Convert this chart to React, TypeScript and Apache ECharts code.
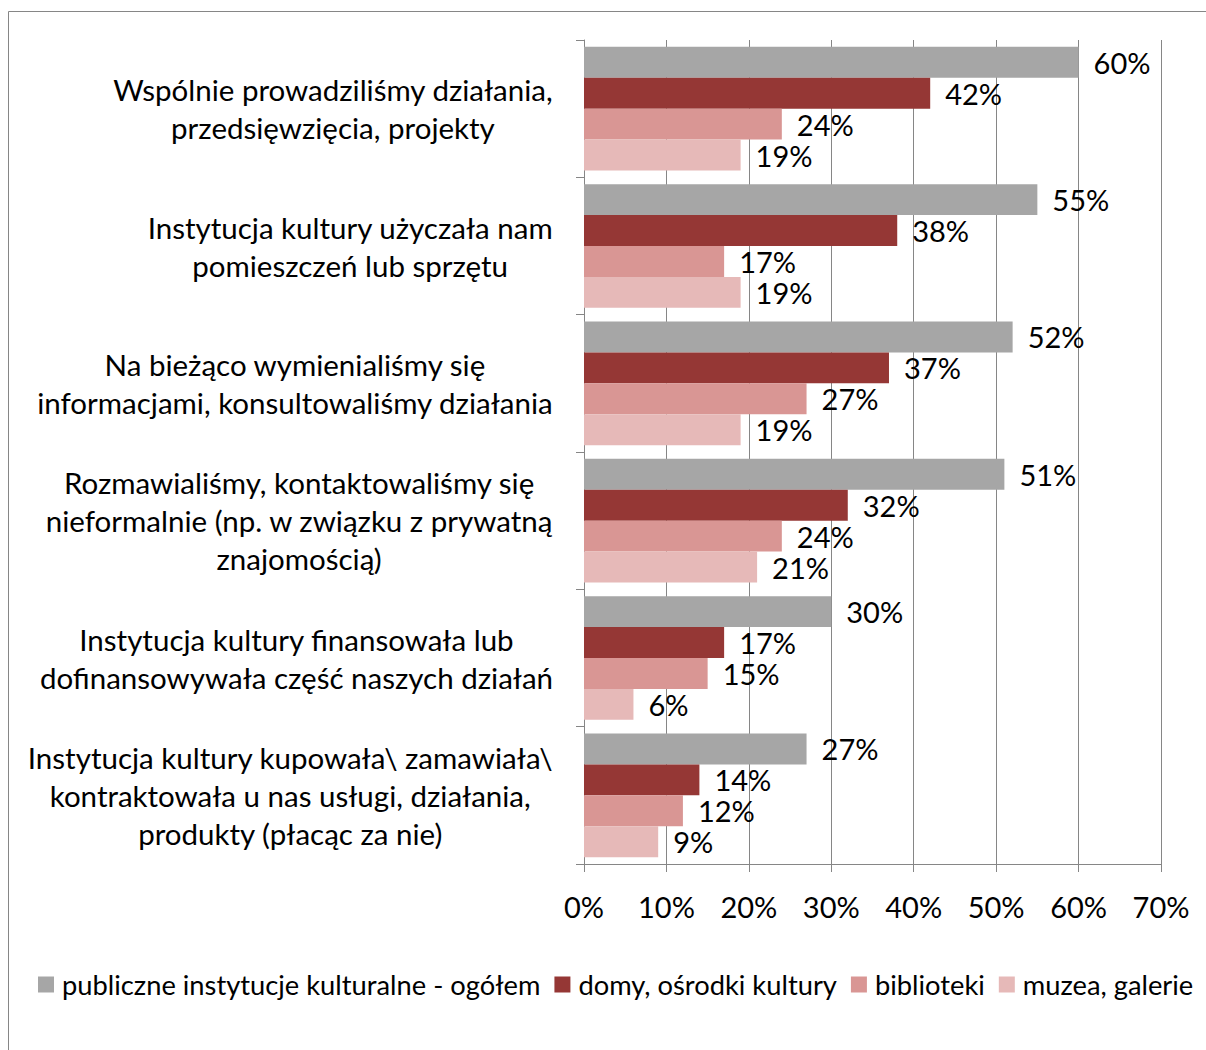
import React, { useEffect, useRef } from "react";
import * as echarts from "echarts";

const categories = [
  "Wspólnie prowadziliśmy działania,\nprzedsięwzięcia, projekty",
  "Instytucja kultury użyczała nam\npomieszczeń lub sprzętu",
  "Na bieżąco wymienialiśmy się\ninformacjami, konsultowaliśmy działania",
  "Rozmawialiśmy, kontaktowaliśmy się\nnieformalnie (np. w związku z prywatną\nznajomością)",
  "Instytucja kultury finansowała lub\ndofinansowywała część naszych działań",
  "Instytucja kultury kupowała\\ zamawiała\\\nkontraktowała u nas usługi, działania,\nprodukty (płacąc za nie)",
];

const seriesNames = [
  "publiczne instytucje kulturalne - ogółem",
  "domy, ośrodki kultury",
  "biblioteki",
  "muzea, galerie",
];

const ogolem = [60, 55, 52, 51, 30, 27];
const domyKultury = [42, 38, 37, 32, 17, 14];
const biblioteki = [24, 17, 27, 24, 15, 12];
const muzea = [19, 19, 19, 21, 6, 9];

const colors = ["#A6A6A6", "#953735", "#D99694", "#E6B9B8"];
const xTicks = [0, 10, 20, 30, 40, 50, 60, 70];

const FONT = "Lato";

export default function App() {
  const ref = useRef<HTMLDivElement>(null);
  useEffect(() => {
    if (!ref.current) return;
    const chart = echarts.init(ref.current, null, { renderer: "svg" });
    const values = [ogolem, domyKultury, biblioteki, muzea];
    chart.setOption({
      animation: false,
      textStyle: { fontFamily: FONT },
      graphic: [
        {
          type: "rect",
          shape: { x: 8.5, y: 11.5, width: 1300, height: 1200 },
          style: { fill: "none", stroke: "#868686", lineWidth: 1 },
          silent: true,
        },
      ],
      legend: {
        left: 38,
        top: 971,
        padding: 0,
        itemWidth: 16,
        itemHeight: 16,
        itemGap: 14,
        icon: "rect",
        textStyle: { fontSize: 27.3, color: "#000", fontFamily: FONT, padding: [0, 0, 0, 3] },
        data: seriesNames,
      },
      grid: { left: 584, right: 45, top: 40, bottom: 186 },
      xAxis: {
        type: "value",
        min: xTicks[0],
        max: xTicks[xTicks.length - 1],
        interval: 10,
        axisLine: { show: true, lineStyle: { color: "#868686" } },
        axisTick: { show: true, length: 8, lineStyle: { color: "#868686" } },
        splitLine: { show: true, lineStyle: { color: "#868686" } },
        axisLabel: {
          formatter: "{value}%",
          fontSize: 29,
          color: "#000",
          margin: 28,
          fontFamily: FONT,
        },
      },
      yAxis: {
        type: "category",
        inverse: true,
        data: categories,
        axisLine: { show: true, lineStyle: { color: "#868686" } },
        axisTick: { show: true, length: 8, lineStyle: { color: "#868686" } },
        axisLabel: {
          margin: 31,
          align: "right",
          formatter: (v: string) =>
            v
              .split("\n")
              .map((l) => `{c|${l}}`)
              .join("\n"),
          rich: {
            c: {
              align: "center",
              fontSize: 29.5,
              lineHeight: 38,
              color: "#000",
              fontFamily: FONT,
            },
          },
        },
      },
      series: seriesNames.map((name, i) => ({
        name,
        type: "bar",
        data: values[i],
        barGap: "0%",
        barCategoryGap: "10%",
        itemStyle: { color: colors[i] },
        label: {
          show: true,
          position: "right",
          distance: 15,
          formatter: "{c}%",
          fontSize: 29,
          color: "#000",
          fontFamily: FONT,
        },
      })),
    });
    return () => chart.dispose();
  }, []);
  return (
    <div
      ref={ref}
      style={{ position: "absolute", left: 0, top: 0, width: 1206, height: 1050, background: "#fff" }}
    />
  );
}
